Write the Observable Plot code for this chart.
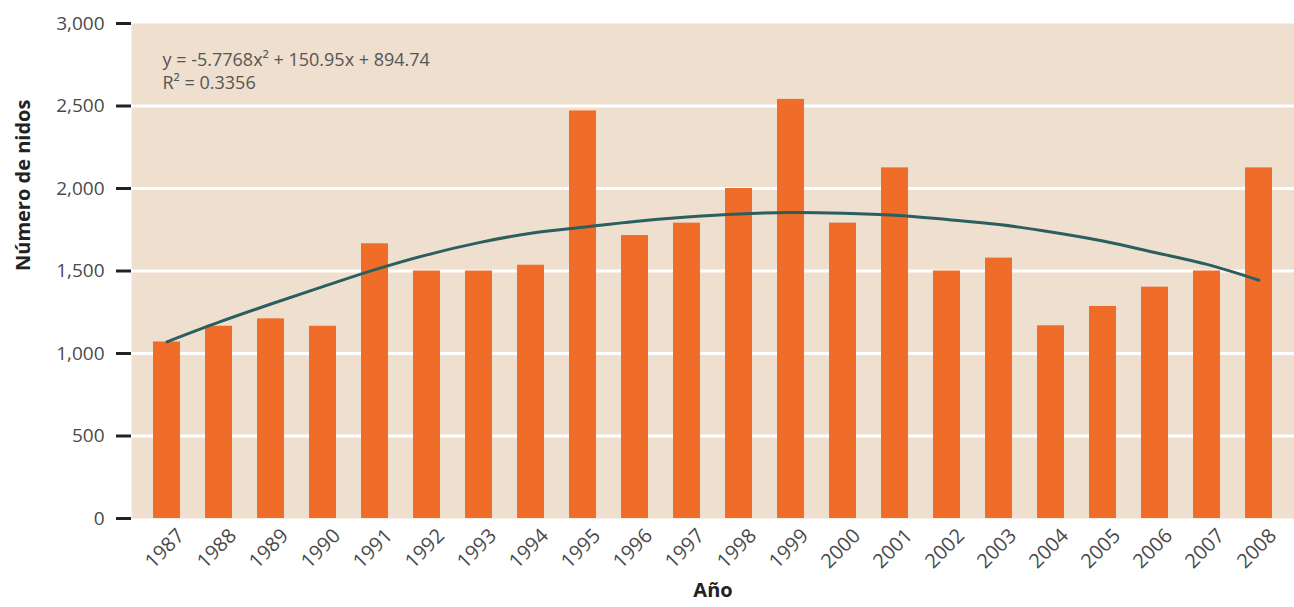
<!DOCTYPE html>
<html>
<head>
<meta charset="utf-8">
<script src="https://cdn.jsdelivr.net/npm/d3@7"></script>
<script src="https://cdn.jsdelivr.net/npm/@observablehq/plot@0.6"></script>
<style>
  html, body { margin: 0; padding: 0; background: #ffffff; }
  #chart svg { display: block; }
</style>
</head>
<body>
<div id="chart"></div>
<script>
const years = ["1987","1988","1989","1990","1991","1992","1993","1994","1995","1996","1997","1998","1999","2000","2001","2002","2003","2004","2005","2006","2007","2008"];
const nests = [1070,1165,1210,1165,1665,1500,1500,1535,2470,1715,1790,2000,2540,1790,2125,1500,1578,1168,1285,1402,1500,2125];
const trend = [1071,1190,1300,1405,1508,1598,1672,1729,1765,1800,1827,1846,1854,1850,1838,1812,1782,1737,1682,1612,1540,1444];
const yTicks = [0,500,1000,1500,2000,2500,3000];
const gridValues = [500,1000,1500,2000,2500];
const equation = "y = -5.7768x² + 150.95x + 894.74";
const rSquared = "R² = 0.3356";
const yLabel = "Número de nidos";
const xLabel = "Año";

const rows = years.map((y, i) => ({year: y, nests: nests[i], trend: trend[i]}));

const font = "'Open Sans', 'Noto Sans', sans-serif";

const chart = Plot.plot({
  width: 1294,
  height: 607,
  marginLeft: 131,
  marginRight: 0,
  marginTop: 23,
  marginBottom: 89,
  style: {fontFamily: font, background: "#ffffff", overflow: "visible"},
  x: {type: "band", domain: years, paddingInner: 0.485, paddingOuter: 0.36},
  y: {domain: [0, 3000]},
  marks: [
    Plot.frame({fill: "#eedfcf", stroke: null}),
    Plot.ruleY(gridValues, {stroke: "#ffffff", strokeWidth: 3}),
    Plot.barY(rows, {x: "year", y: "nests", fill: "#ef6d28"}),
    Plot.line(rows, {x: "year", y: "trend", stroke: "#2b5f5f", strokeWidth: 3, curve: "catmull-rom"}),
    Plot.axisY({ticks: yTicks, tickFormat: d3.format(","), tickSize: 15, tickPadding: 12, strokeWidth: 3, stroke: "#222", color: "#4a4a4a", fontSize: 19, label: null}),
    Plot.axisX({tickSize: 0, tickRotate: -45, tickPadding: 14, dx: 14, fontSize: 20, color: "#4a4a4a", label: null}),
    Plot.text([equation], {frameAnchor: "top-left", dx: 31, dy: 37, fontSize: 18, fill: "#555", textAnchor: "start", lineAnchor: "middle"}),
    Plot.text([rSquared], {frameAnchor: "top-left", dx: 31, dy: 60, fontSize: 18, fill: "#555", textAnchor: "start", lineAnchor: "middle"}),
    Plot.text([yLabel], {frameAnchor: "left", dx: -108, rotate: -90, fontWeight: "bold", fontSize: 20, fill: "#222"}),
    Plot.text([xLabel], {frameAnchor: "bottom", dy: 78, fontWeight: "bold", fontSize: 20, fill: "#222"})
  ]
});
document.getElementById("chart").appendChild(chart);
</script>
</body>
</html>
